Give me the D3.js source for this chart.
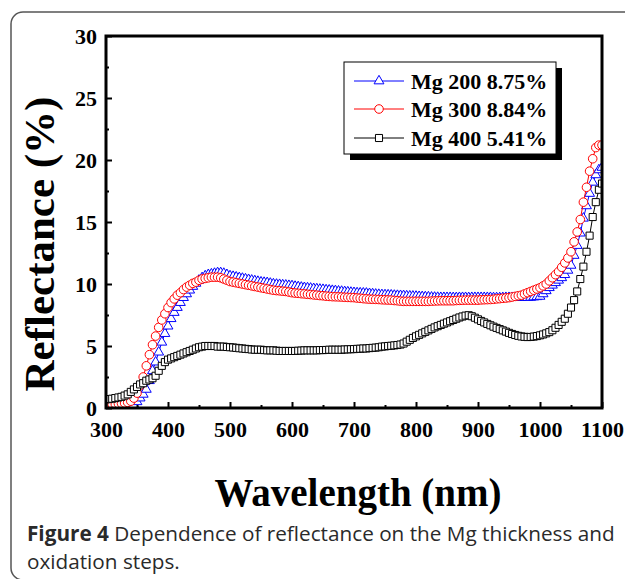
<!DOCTYPE html>
<html>
<head>
<meta charset="utf-8">
<script src="https://cdn.jsdelivr.net/npm/d3@7"></script>
<style>
  html, body { margin: 0; padding: 0; background: #fff; }
  svg { display: block; }
</style>
</head>
<body>
<svg id="chart" width="625" height="579"></svg>
<script>
// ---------- DATA ----------
const wavelengths = d3.range(300, 1101, 5); // nm, 161 points
const seriesNames = ["Mg 200 8.75%", "Mg 300 8.84%", "Mg 400 5.41%"];
const xTickValues = [300, 400, 500, 600, 700, 800, 900, 1000, 1100];
const yTickValues = [0, 5, 10, 15, 20, 25, 30];

const mg200 = [
  0,0,0,0,0,0,0,0.05,0.1,0.25,
  0.5,0.8,1.1,1.5,2.2,3.0,3.7,4.5,5.3,6.0,
  6.6,7.2,7.7,8.1,8.5,8.9,9.2,9.5,9.8,10.05,
  10.3,10.5,10.65,10.75,10.8,10.85,10.9,10.9,10.85,10.75,
  10.65,10.6,10.55,10.5,10.45,10.4,10.35,10.3,10.25,10.2,
  10.15,10.12,10.1,10.05,10.0,9.97,9.95,9.92,9.9,9.87,
  9.85,9.8,9.77,9.73,9.7,9.68,9.65,9.62,9.6,9.57,
  9.55,9.52,9.5,9.47,9.45,9.42,9.4,9.37,9.35,9.32,
  9.3,9.28,9.27,9.26,9.25,9.22,9.2,9.17,9.15,9.13,
  9.12,9.11,9.1,9.08,9.07,9.06,9.05,9.03,9.02,9.01,
  9.0,8.98,8.97,8.96,8.95,8.93,8.92,8.91,8.9,8.9,
  8.9,8.9,8.89,8.89,8.9,8.9,8.9,8.89,8.9,8.9,
  8.9,8.9,8.9,8.9,8.9,8.88,8.88,8.88,8.89,8.9,
  8.9,8.9,8.9,8.9,8.9,8.9,8.9,8.92,8.95,8.97,
  9.0,9.2,9.45,9.7,9.9,10.1,10.3,10.5,10.75,11.1,
  11.5,12.3,13.1,14.1,15.3,16.3,17.3,18.2,18.8,19.2,
  19.4
];
const mg300 = [
  0.3,0.3,0.3,0.32,0.35,0.37,0.4,0.45,0.55,0.8,
  1.2,1.8,2.5,3.4,4.3,5.1,5.8,6.5,7.1,7.6,
  8.1,8.5,8.8,9.1,9.3,9.55,9.75,9.9,10.05,10.15,
  10.3,10.4,10.45,10.5,10.55,10.55,10.55,10.5,10.4,10.3,
  10.2,10.15,10.1,10.05,10.0,9.95,9.9,9.85,9.8,9.75,
  9.7,9.65,9.6,9.55,9.5,9.47,9.45,9.42,9.4,9.35,
  9.3,9.27,9.25,9.22,9.2,9.17,9.15,9.12,9.1,9.07,
  9.05,9.02,9.0,8.98,8.97,8.96,8.95,8.93,8.92,8.91,
  8.9,8.87,8.85,8.82,8.8,8.78,8.77,8.76,8.75,8.73,
  8.72,8.71,8.7,8.67,8.65,8.62,8.6,8.6,8.6,8.6,
  8.6,8.6,8.6,8.6,8.6,8.62,8.63,8.64,8.65,8.65,
  8.65,8.65,8.65,8.67,8.68,8.69,8.7,8.7,8.7,8.7,
  8.7,8.72,8.73,8.74,8.75,8.77,8.8,8.82,8.85,8.87,
  8.9,8.95,9.0,9.05,9.1,9.2,9.3,9.4,9.5,9.6,
  9.7,9.85,10.0,10.25,10.5,10.75,11.0,11.35,11.7,12.1,
  12.6,13.4,14.2,15.2,16.6,17.8,19.1,20.1,21.0,21.2,
  21.2
];
const mg400 = [
  0.7,0.72,0.75,0.8,0.85,0.9,1.0,1.1,1.3,1.5,
  1.7,1.9,2.0,2.2,2.3,2.4,2.6,3.0,3.4,3.7,
  3.9,4.0,4.1,4.2,4.3,4.4,4.5,4.6,4.7,4.8,
  4.9,4.95,5.0,5.0,5.0,5.0,4.95,4.95,4.95,4.92,
  4.9,4.88,4.85,4.82,4.8,4.77,4.75,4.72,4.7,4.7,
  4.7,4.67,4.65,4.65,4.65,4.62,4.6,4.6,4.6,4.6,
  4.6,4.6,4.62,4.63,4.65,4.65,4.65,4.65,4.65,4.67,
  4.67,4.68,4.7,4.7,4.7,4.7,4.7,4.72,4.73,4.74,
  4.75,4.77,4.78,4.8,4.8,4.83,4.85,4.87,4.9,4.95,
  4.97,5.0,5.02,5.05,5.08,5.12,5.2,5.35,5.5,5.65,
  5.78,5.9,6.02,6.14,6.26,6.38,6.5,6.6,6.7,6.8,
  6.9,7.0,7.1,7.2,7.3,7.38,7.45,7.48,7.4,7.28,
  7.15,7.02,6.9,6.78,6.67,6.56,6.46,6.36,6.26,6.16,
  6.06,5.97,5.89,5.82,5.77,5.74,5.72,5.73,5.76,5.8,
  5.86,5.93,6.02,6.12,6.27,6.47,6.7,6.95,7.2,7.6,
  8.1,8.7,9.4,10.4,11.4,12.6,13.9,15.4,16.6,17.6,
  18.1
];

// ---------- LAYOUT ----------
const svg = d3.select("#chart");
const X0 = 106, X1 = 602, Y0 = 408, Y1 = 36;
const x = d3.scaleLinear().domain([300, 1100]).range([X0, X1]);
const y = d3.scaleLinear().domain([0, 30]).range([Y0, Y1]);

// outer rounded border
svg.append("rect")
  .attr("x", 11).attr("y", 12).attr("width", 660).attr("height", 568)
  .attr("rx", 12).attr("ry", 12)
  .attr("fill", "none").attr("stroke", "#555").attr("stroke-width", 1.5);

const serif = "'Liberation Serif','Times New Roman',serif";

// clip for plot area
svg.append("defs").append("clipPath").attr("id", "plotclip")
  .append("rect").attr("x", X0).attr("y", Y1).attr("width", X1 - X0).attr("height", Y0 - Y1);

// series
const series = [
  { name: seriesNames[0], values: mg200, color: "#0000ff", symbol: d3.symbolTriangle, size: 42 },
  { name: seriesNames[1], values: mg300, color: "#ff0000", symbol: d3.symbolCircle, size: 58 },
  { name: seriesNames[2], values: mg400, color: "#000000", symbol: d3.symbolSquare, size: 50 }
];

const plot = svg.append("g").attr("clip-path", "url(#plotclip)");
const line = d3.line().x(d => x(d[0])).y(d => y(d[1]));
series.forEach(s => {
  const pts = wavelengths.map((w, i) => [w, s.values[i]]);
  const g = plot.append("g");
  g.append("path").datum(pts).attr("d", line)
    .attr("fill", "none").attr("stroke", s.color).attr("stroke-width", 1);
  const sym = d3.symbol().type(s.symbol).size(s.size);
  g.selectAll("path.m").data(pts).join("path").attr("class", "m")
    .attr("transform", d => `translate(${x(d[0])},${y(d[1])})`)
    .attr("d", sym)
    .attr("fill", "#fff").attr("stroke", s.color).attr("stroke-width", 1);
});

// axes
function styleAxis(g, fs) {
  g.select(".domain").remove();
  g.selectAll(".tick line").attr("stroke", "#000").attr("stroke-width", 2);
  g.selectAll(".tick text").attr("fill", "#000")
    .style("font-family", serif).style("font-weight", "bold").style("font-size", fs + "px");
}
const minorX = d3.range(350, 1100, 100);
const minorY = d3.range(2.5, 30, 5);

const gx = svg.append("g").attr("transform", `translate(0,${Y0})`)
  .call(d3.axisBottom(x).tickValues(xTickValues).tickSize(-6).tickPadding(13).tickFormat(d3.format("d")));
styleAxis(gx, 22);
const gxm = svg.append("g").attr("transform", `translate(0,${Y0})`)
  .call(d3.axisBottom(x).tickValues(minorX).tickSize(-3).tickFormat(""));
styleAxis(gxm, 22);

const gy = svg.append("g").attr("transform", `translate(${X0},0)`)
  .call(d3.axisLeft(y).tickValues(yTickValues).tickSize(-6).tickPadding(9).tickFormat(d3.format("d")));
styleAxis(gy, 22);
const gym = svg.append("g").attr("transform", `translate(${X0},0)`)
  .call(d3.axisLeft(y).tickValues(minorY).tickSize(-3).tickFormat(""));
styleAxis(gym, 22);

// frame
svg.append("rect").attr("x", X0).attr("y", Y1).attr("width", X1 - X0).attr("height", Y0 - Y1)
  .attr("fill", "none").attr("stroke", "#000").attr("stroke-width", 3);

// axis titles
svg.append("text")
  .attr("transform", `translate(54,${(Y0 + Y1) / 2 + 22}) rotate(-90)`)
  .attr("text-anchor", "middle")
  .style("font-family", serif).style("font-weight", "bold").style("font-size", "43px")
  .text("Reflectance (%)");
svg.append("text")
  .attr("x", 358).attr("y", 506).attr("text-anchor", "middle")
  .style("font-family", serif).style("font-weight", "bold").style("font-size", "39px")
  .text("Wavelength (nm)");

// legend
const LX = 344, LY = 62, LW = 212, LH = 92;
svg.append("rect").attr("x", LX + 6).attr("y", LY + 6).attr("width", LW).attr("height", LH).attr("fill", "#000");
svg.append("rect").attr("x", LX).attr("y", LY).attr("width", LW).attr("height", LH)
  .attr("fill", "#fff").attr("stroke", "#000").attr("stroke-width", 1);
const rowY = [81, 109, 138];
series.forEach((s, i) => {
  const g = svg.append("g");
  g.append("line").attr("x1", 354).attr("x2", 404).attr("y1", rowY[i]).attr("y2", rowY[i])
    .attr("stroke", s.color).attr("stroke-width", 1);
  g.append("path").attr("transform", `translate(379,${rowY[i]})`)
    .attr("d", d3.symbol().type(s.symbol).size(s.size))
    .attr("fill", "#fff").attr("stroke", s.color).attr("stroke-width", 1);
  g.append("text").attr("x", 411).attr("y", rowY[i] + 8)
    .style("font-family", serif).style("font-weight", "bold").style("font-size", "22px")
    .text(s.name);
});

// caption
const capFont = "'Open Sans','Noto Sans',sans-serif";
const cap1 = svg.append("text").attr("x", 27).attr("y", 541)
  .style("font-family", capFont).style("font-size", "18px").attr("fill", "#2a2a2a");
cap1.append("tspan").style("font-weight", "bold").text("Figure 4");
cap1.append("tspan").text(" Dependence of reflectance on the Mg thickness and");
const cap2 = svg.append("text").attr("x", 27).attr("y", 569)
  .style("font-family", capFont).style("font-size", "18px").attr("fill", "#2a2a2a")
  .text("oxidation steps.");
// fit caption width to the reference line length
const w1 = cap1.node().getComputedTextLength();
const fs = 18 * 588 / w1;
cap1.style("font-size", fs + "px");
cap2.style("font-size", fs + "px");
</script>
</body>
</html>
